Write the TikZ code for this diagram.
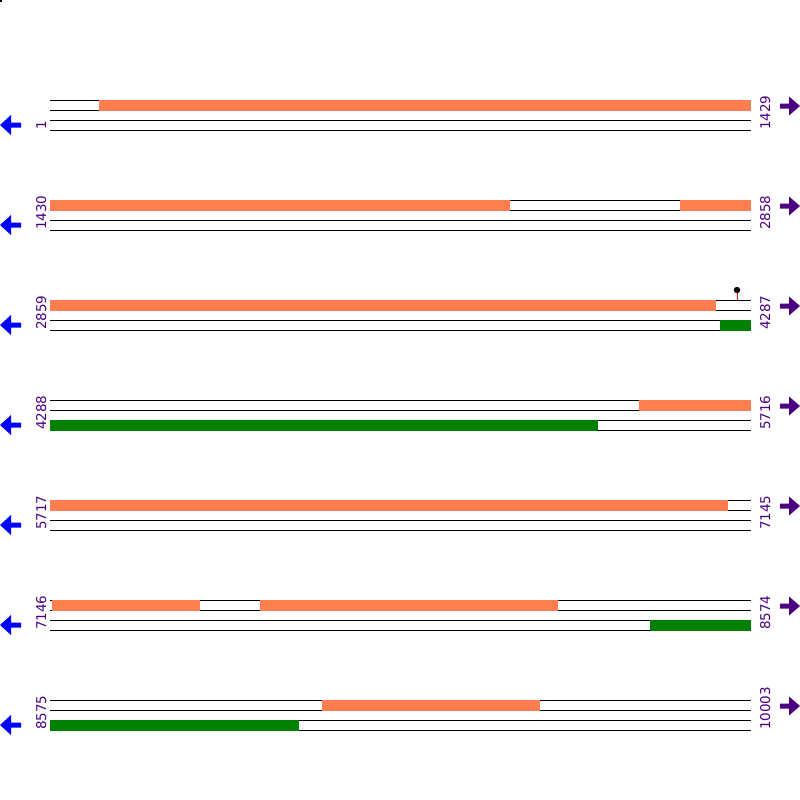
\documentclass[tikz,border=0pt]{standalone}
\usepackage{fontspec}
\setmainfont{DejaVu Sans}
\definecolor{orf}{HTML}{FF7F50}
\definecolor{grn}{HTML}{008000}
\definecolor{ind}{HTML}{4B0082}
\begin{document}
\begin{tikzpicture}[x=1pt,y=-1pt,
  trk/.style={draw=black,line width=1pt},
  fwd/.style={fill=orf},
  rev/.style={fill=grn},
  poslab/.style={rotate=90,anchor=base west,inner sep=0pt,text=ind,font=\fontsize{13.5}{14}\selectfont},
  larrow/.style={fill=blue},
  rarrow/.style={fill=ind}]
\useasboundingbox (0,0) rectangle (800,800);
\fill[black] (0,0) rectangle (2,2);
\foreach \r/\a/\b in {0/1/1429,1/1430/2858,2/2859/4287,3/4288/5716,4/5717/7145,5/7146/8574,6/8575/10003}{
  \begin{scope}[yshift=-\r*100pt]
    \foreach \yy in {100,110,120,130} \draw[trk] (50,\yy) -- (751,\yy);
    \node[poslab] (l\r) at (46,130) {\a};
    \node[poslab] (r\r) at (770,130) {\b};
    \fill[larrow] (0,125) -- (11,115) -- (11,122.5) -- (21,122.5) -- (21,127.5) -- (11,127.5) -- (11,135) -- cycle;
    \fill[rarrow] (800,106) -- (789,96.5) -- (789,103.5) -- (780,103.5) -- (780,108.5) -- (789,108.5) -- (789,115.5) -- cycle;
  \end{scope}
}
% row 1
\fill[fwd] (99,100) rectangle (751,110.5);
% row 2
\fill[fwd] (50,200) rectangle (510,210.5);
\fill[fwd] (680,200) rectangle (751,210.5);
% row 3
\fill[fwd] (50,300) rectangle (716,310.5);
\fill[rev] (720,320) rectangle (751,330.5);
\draw[red,line width=1pt] (737,300) -- (737,290);
\fill[black] (737,290) circle (3.2);
% row 4
\fill[fwd] (639,400) rectangle (751,410.5);
\fill[rev] (50,420) rectangle (598,430.5);
% row 5
\fill[fwd] (50,500) rectangle (728,510.5);
% row 6
\fill[fwd] (52,600) rectangle (200,610.5);
\fill[fwd] (260,600) rectangle (558,610.5);
\fill[rev] (650,620) rectangle (751,630.5);
% row 7
\fill[fwd] (322,700) rectangle (540,710.5);
\fill[rev] (50,720) rectangle (299,730.5);
\end{tikzpicture}
\end{document}
